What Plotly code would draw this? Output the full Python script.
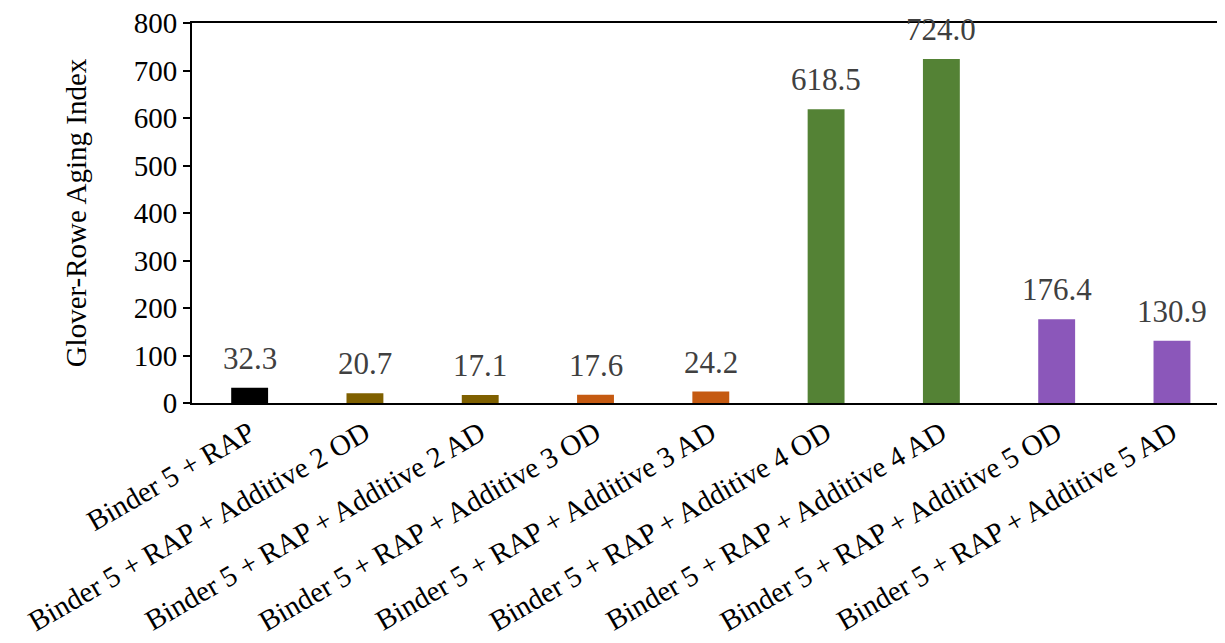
import plotly.graph_objects as go

categories = [
    "Binder 5 + RAP",
    "Binder 5 + RAP + Additive 2 OD",
    "Binder 5 + RAP + Additive 2 AD",
    "Binder 5 + RAP + Additive 3 OD",
    "Binder 5 + RAP + Additive 3 AD",
    "Binder 5 + RAP + Additive 4 OD",
    "Binder 5 + RAP + Additive 4 AD",
    "Binder 5 + RAP + Additive 5 OD",
    "Binder 5 + RAP + Additive 5 AD",
]
values = [32.3, 20.7, 17.1, 17.6, 24.2, 618.5, 724.0, 176.4, 130.9]
colors = ["#000000", "#7F6000", "#7F6000", "#C55A11", "#C55A11",
          "#548235", "#548235", "#8B57BA", "#8B57BA"]
y_ticks = [0, 100, 200, 300, 400, 500, 600, 700, 800]

FONT = "Liberation Serif, Times New Roman, serif"

fig = go.Figure()
fig.add_trace(go.Bar(
    x=list(range(len(categories))),
    y=values,
    marker=dict(color=colors, line=dict(width=0)),
    width=0.32,
    hoverinfo="skip",
))

for i, v in enumerate(values):
    fig.add_annotation(
        x=i, y=v, text=f"{v:.1f}", showarrow=False,
        yanchor="bottom", yshift=10,
        font=dict(family=FONT, size=31, color="#404040"),
    )

fig.update_layout(
    width=1217, height=635,
    margin=dict(l=184, r=0, t=15, b=240),
    plot_bgcolor="white", paper_bgcolor="white",
    showlegend=False,
    font=dict(family=FONT, color="#000000"),
)
fig.update_xaxes(
    tickmode="array",
    tickvals=list(range(len(categories))),
    ticktext=categories,
    tickangle=-30,
    tickfont=dict(family=FONT, size=29, color="#000000"),
    range=[-0.5, 8.46],
    showline=True, linecolor="#000000", linewidth=2, mirror=True,
    showgrid=False, ticks="", zeroline=False, automargin=False,
    ticklabeloverflow="allow",
)
fig.update_yaxes(
    range=[0, 800],
    tickmode="array", tickvals=y_ticks,
    tickfont=dict(family=FONT, size=29, color="#000000"),
    title=dict(text="Glover-Rowe Aging Index",
               font=dict(family=FONT, size=29, color="#000000"),
               standoff=39),
    showline=True, linecolor="#000000", linewidth=2,
    ticks="outside", ticklen=7, tickwidth=2, tickcolor="#000000",
    showgrid=False, zeroline=False, automargin=False,
    ticklabeloverflow="allow",
)

fig.write_html("out.html")
